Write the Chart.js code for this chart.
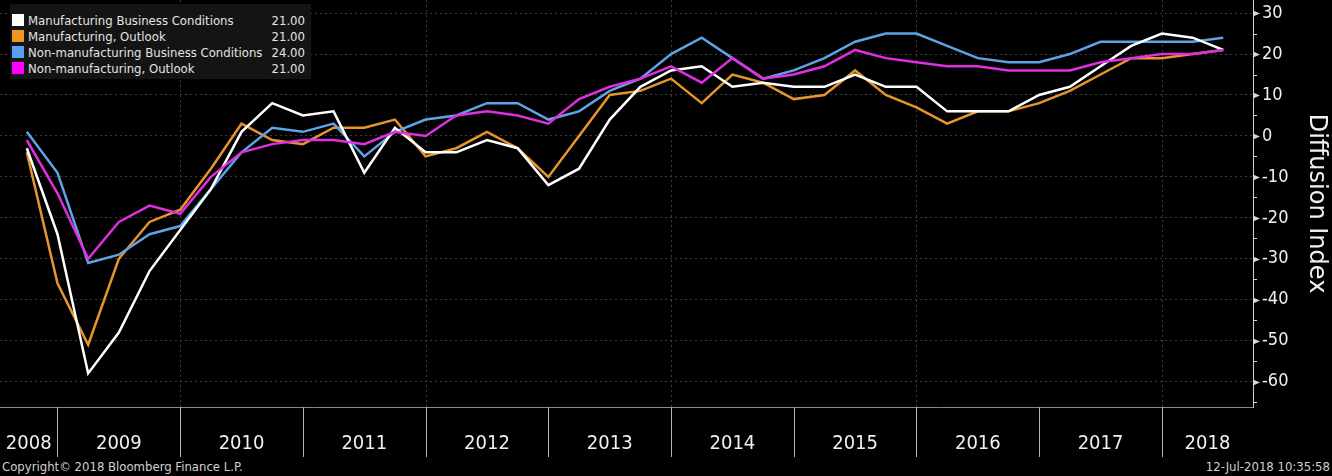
<!DOCTYPE html>
<html>
<head>
<meta charset="utf-8">
<script src="https://cdn.jsdelivr.net/npm/chart.js@4.4.1/dist/chart.umd.min.js"></script>
<style>
  html, body { margin: 0; padding: 0; background: #000; }
  body { width: 1332px; height: 476px; position: relative; overflow: hidden;
         font-family: 'DejaVu Sans Condensed', 'DejaVu Sans', sans-serif; }
  #wrap { position: absolute; left: 0; top: 0; width: 1332px; height: 457px; }
  #legend { position: absolute; left: 10px; top: 4px; width: 301px; padding: 8px 0 3px 0;
            background: #141414; color: #e4e4e4; font-size: 13px; }
  .row { display: flex; align-items: center; height: 16px; padding-left: 2px; }
  .sw { width: 12px; height: 12px; margin-right: 4px; }
  .name { flex: 1; white-space: nowrap; }
  .val { padding-right: 6px; }
  .foot { position: absolute; top: 459px; font-size: 13px; color: #d0d0d0; }
</style>
</head>
<body>
<div id="wrap"><canvas id="chart"></canvas></div>
<div id="legend"></div>
<div class="foot" style="left:2px">Copyright© 2018 Bloomberg Finance L.P.</div>
<div class="foot" style="right:2px">12-Jul-2018 10:35:58</div>
<script>
// quarterly readings, 2008 Q4 .. 2018 Q3
const quarters = [
  '2008-Q4',
  '2009-Q1', '2009-Q2', '2009-Q3', '2009-Q4',
  '2010-Q1', '2010-Q2', '2010-Q3', '2010-Q4',
  '2011-Q1', '2011-Q2', '2011-Q3', '2011-Q4',
  '2012-Q1', '2012-Q2', '2012-Q3', '2012-Q4',
  '2013-Q1', '2013-Q2', '2013-Q3', '2013-Q4',
  '2014-Q1', '2014-Q2', '2014-Q3', '2014-Q4',
  '2015-Q1', '2015-Q2', '2015-Q3', '2015-Q4',
  '2016-Q1', '2016-Q2', '2016-Q3', '2016-Q4',
  '2017-Q1', '2017-Q2', '2017-Q3', '2017-Q4',
  '2018-Q1', '2018-Q2', '2018-Q3',
];

const mfgConditions = [
  -3, -24, -58, -48, -33, -23, -13, 1, 8, 5, 6, -9, 2, -4, -4, -1, -3, -12, -8, 4,
  12, 16, 17, 12, 13, 12, 12, 15, 12, 12, 6, 6, 6, 10, 12, 17, 22, 25, 24, 21,
];
const mfgOutlook = [
  -4, -36, -51, -30, -21, -18, -8, 3, -1, -2, 2, 2, 4, -5, -3, 1, -3, -10, 0, 10,
  11, 14, 8, 15, 13, 9, 10, 16, 10, 7, 3, 6, 6, 8, 11, 15, 19, 19, 20, 21,
];
const nonMfgConditions = [
  1, -9, -31, -29, -24, -22, -13, -4, 2, 1, 3, -5, 1, 4, 5, 8, 8, 4, 6, 11,
  14, 20, 24, 19, 14, 16, 19, 23, 25, 25, 22, 19, 18, 18, 20, 23, 23, 23, 23, 24,
];
const nonMfgOutlook = [
  -1, -14, -30, -21, -17, -19, -10, -4, -2, -1, -1, -2, 1, 0, 5, 6, 5, 3, 9, 12,
  14, 17, 13, 19, 14, 15, 17, 21, 19, 18, 17, 17, 16, 16, 16, 18, 19, 20, 20, 21,
];

const years = ['2008', '2009', '2010', '2011', '2012', '2013', '2014', '2015', '2016', '2017', '2018'];
const yTicks = [-60, -50, -40, -30, -20, -10, 0, 10, 20, 30];

const series = [
  { label: 'Manufacturing Business Conditions', data: mfgConditions, color: '#ffffff', swatch: '#ffffff', order: 1 },
  { label: 'Manufacturing, Outlook', data: mfgOutlook, color: '#e6952d', swatch: '#f0961e', order: 3 },
  { label: 'Non-manufacturing Business Conditions', data: nonMfgConditions, color: '#5fa3e6', swatch: '#5aa0f0', order: 2 },
  { label: 'Non-manufacturing, Outlook', data: nonMfgOutlook, color: '#e02ee0', swatch: '#ff00ff', order: 0 },
];

// x is the quarter index; year Y starts at the index of its first quarter
const X_MIN = -0.874;
const X_MAX = 39.97;
const yearStart = (k) => quarters.indexOf(years[k] + '-Q1');

function yearCenter(k) {
  const start = k === 0 ? X_MIN : yearStart(k);
  const end = k === years.length - 1 ? X_MAX : yearStart(k + 1);
  return (start + end) / 2;
}

function noPadding(scale) {
  scale.paddingLeft = 0;
  scale.paddingRight = 0;
  scale.paddingTop = 0;
  scale.paddingBottom = 0;
}

// legend
const legend = document.getElementById('legend');
series.forEach((s) => {
  const row = document.createElement('div');
  row.className = 'row';
  row.innerHTML = `<span class="sw" style="background:${s.swatch}"></span>`
    + `<span class="name">${s.label}</span>`
    + `<span class="val">${s.data[s.data.length - 1].toFixed(2)}</span>`;
  legend.appendChild(row);
});

const decor = {
  id: 'decor',
  beforeDatasetsDraw(chart) {
    const { ctx, chartArea, scales: { x } } = chart;
    ctx.save();
    ctx.strokeStyle = '#3c3c3c';
    ctx.lineWidth = 1;
    ctx.setLineDash([2, 3]);
    years.forEach((y, k) => {
      if (k === 0 || (Number(y) % 2) !== 0) return;
      const px = Math.round(x.getPixelForValue(yearStart(k))) + 0.5;
      ctx.beginPath();
      ctx.moveTo(px, chartArea.top);
      ctx.lineTo(px, chartArea.bottom);
      ctx.stroke();
    });
    ctx.restore();
  },
  afterDraw(chart) {
    const { ctx, chartArea, scales: { x, y } } = chart;
    ctx.save();
    // year separators under the plot
    ctx.strokeStyle = '#b0b0b0';
    ctx.lineWidth = 1;
    years.forEach((yr, k) => {
      if (k === 0) return;
      const px = Math.round(x.getPixelForValue(yearStart(k))) + 0.5;
      ctx.beginPath();
      ctx.moveTo(px, chartArea.bottom);
      ctx.lineTo(px, chartArea.bottom + 50);
      ctx.stroke();
    });
    // y axis tick marks: arrows on tens, short dashes on fives
    const ax = chartArea.right;
    ctx.fillStyle = '#d8d8d8';
    ctx.strokeStyle = '#d8d8d8';
    for (let v = -65; v <= 30; v += 5) {
      const py = Math.round(y.getPixelForValue(v)) + 0.5;
      if (v % 10 === 0) {
        ctx.beginPath();
        ctx.moveTo(ax, py - 3);
        ctx.lineTo(ax + 7, py);
        ctx.lineTo(ax, py + 3);
        ctx.closePath();
        ctx.fill();
      } else {
        ctx.beginPath();
        ctx.moveTo(ax, py);
        ctx.lineTo(ax + 4, py);
        ctx.stroke();
      }
    }
    ctx.restore();
  },
};

new Chart(document.getElementById('chart'), {
  type: 'line',
  data: {
    datasets: series.map((s) => ({
      label: s.label,
      data: s.data.map((v, i) => ({ x: i, y: v })),
      borderColor: s.color,
      backgroundColor: s.color,
      borderWidth: 2.5,
      pointRadius: 0,
      tension: 0,
      order: s.order,
    })),
  },
  options: {
    responsive: true,
    maintainAspectRatio: false,
    animation: false,
    layout: { padding: 0 },
    plugins: { legend: { display: false }, tooltip: { enabled: false } },
    scales: {
      x: {
        type: 'linear',
        min: X_MIN,
        max: X_MAX,
        afterBuildTicks: (scale) => {
          scale.ticks = years.map((_y, k) => ({ value: yearCenter(k) }));
        },
        afterFit: (scale) => { scale.height = 50; noPadding(scale); },
        ticks: {
          autoSkip: false,
          maxRotation: 0,
          padding: 25,
          color: '#f0f0f0',
          font: { family: "'DejaVu Sans Condensed', 'DejaVu Sans', sans-serif", size: 20 },
          callback: (value) => {
            const k = years.findIndex((_y, j) => Math.abs(yearCenter(j) - value) < 1e-6);
            return k >= 0 ? years[k] : '';
          },
        },
        grid: { display: false, drawTicks: false },
        border: { display: true, color: '#8a8a8a', width: 1 },
      },
      y: {
        position: 'right',
        min: -66.2,
        max: 33.2,
        afterBuildTicks: (scale) => {
          scale.ticks = yTicks.map((v) => ({ value: v }));
        },
        afterFit: (scale) => { scale.width = 79; noPadding(scale); },
        ticks: {
          padding: 9,
          color: '#f0f0f0',
          font: { family: "'DejaVu Sans Condensed', 'DejaVu Sans', sans-serif", size: 18 },
        },
        grid: { color: '#3c3c3c', drawTicks: false },
        border: { display: true, color: '#d0d0d0', width: 1, dash: [2, 3] },
        title: {
          display: true,
          text: 'Diffusion Index',
          color: '#f0f0f0',
          padding: { top: 1, bottom: 0 },
          font: { family: "'DejaVu Sans', sans-serif", size: 24 },
        },
      },
    },
  },
  plugins: [decor],
});
</script>
</body>
</html>
